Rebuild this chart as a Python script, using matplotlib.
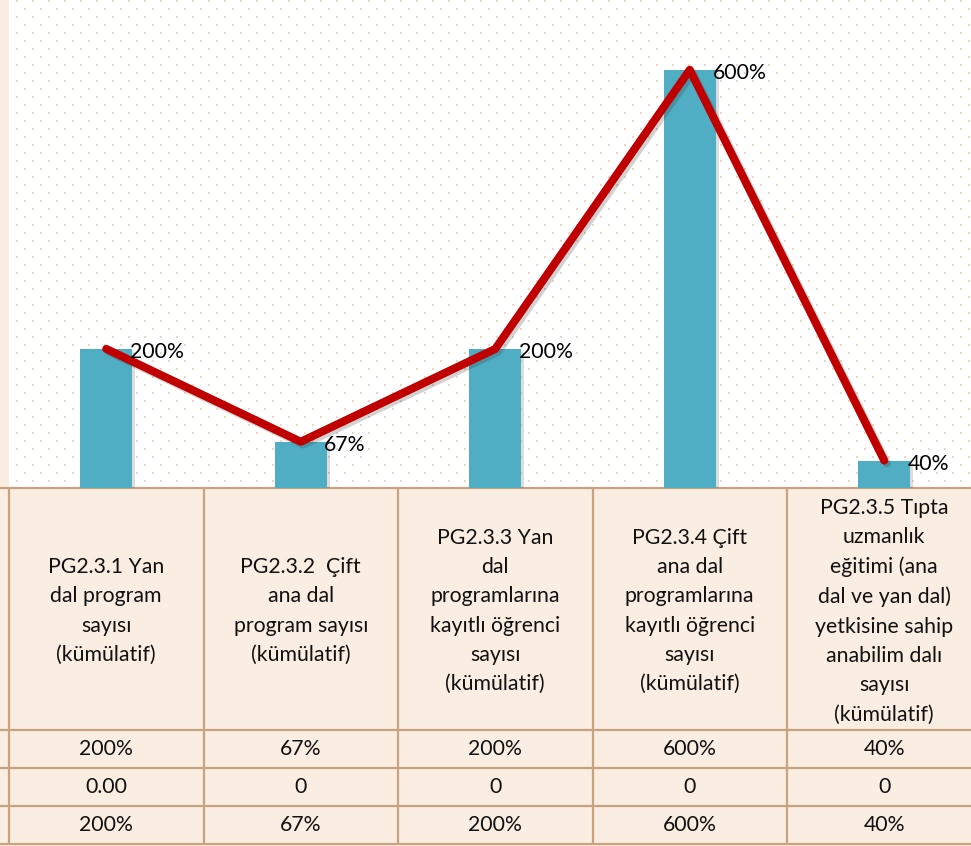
import numpy as np
import matplotlib
matplotlib.use("Agg")
import matplotlib.pyplot as plt
import matplotlib.patheffects as pe
from matplotlib.patches import Rectangle

# ---------------- data ----------------
categories = [
    "PG2.3.1 Yan\ndal program\nsayısı\n(kümülatif)",
    "PG2.3.2  Çift\nana dal\nprogram sayısı\n(kümülatif)",
    "PG2.3.3 Yan\ndal\nprogramlarına\nkayıtlı öğrenci\nsayısı\n(kümülatif)",
    "PG2.3.4 Çift\nana dal\nprogramlarına\nkayıtlı öğrenci\nsayısı\n(kümülatif)",
    "PG2.3.5 Tıpta\nuzmanlık\neğitimi (ana\ndal ve yan dal)\nyetkisine sahip\nanabilim dalı\nsayısı\n(kümülatif)",
]
bar_values = [200, 67, 200, 600, 40]      # percent
line_values = [200, 67, 200, 600, 40]     # percent
row1_labels = ["200%", "67%", "200%", "600%", "40%"]
row2_labels = ["0.00", "0", "0", "0", "0"]
row3_labels = ["200%", "67%", "200%", "600%", "40%"]

# ---------------- style ----------------
plt.rcParams['font.family'] = ['Lato', 'DejaVu Sans']
W, H = 971, 846
DPI = 100
BAR_C = "#4FADC4"
LINE_C = "#C00000"
GRID_C = "#C9A27E"
PEACH = "#FAEDE2"
DOT_C = "#EAD8C2"
FS = 15.3

fig = plt.figure(figsize=(W / DPI, H / DPI), dpi=DPI, facecolor=PEACH)

# layout in pixels
left_px = 9
col_w = 194.5
n = len(categories)
axis_w = col_w * n
chart_bottom = 488.5
table_top, table_bottom = 488, 844

# background (pixel coordinates)
ax_bg = fig.add_axes([0, 0, 1, 1], zorder=0)
ax_bg.set_xlim(0, W)
ax_bg.set_ylim(H, 0)
ax_bg.axis("off")
ax_bg.add_patch(Rectangle((left_px, 0), W - left_px, chart_bottom,
                          facecolor="white", edgecolor="none"))
dx, dy = np.meshgrid(np.arange(0, W + 16, 16), np.arange(0, chart_bottom - 4, 8))
dx = dx + (np.arange(dx.shape[0])[:, None] % 2) * 8 + 1
mask = dx > left_px + 2
ax_bg.scatter(dx[mask], dy[mask] + 1, s=2.6, marker="s", color=DOT_C, linewidths=0)

# chart axes
ax = fig.add_axes([left_px / W, (H - chart_bottom) / H, axis_w / W, chart_bottom / H], zorder=2)
ax.set_facecolor("none")
x = np.arange(n)
ax.set_xlim(-0.5, n - 0.5)
ax.set_ylim(0, 700)
ax.axis("off")

bar_w = 52 / col_w
ax.bar(x, bar_values, width=bar_w, color=BAR_C, zorder=2,
       path_effects=[pe.SimplePatchShadow(offset=(2, -2), alpha=0.18, shadow_rgbFace="#444444"),
                     pe.Normal()])
ax.plot(x, line_values, color=LINE_C, lw=5.8, solid_capstyle="round",
        solid_joinstyle="round", zorder=3,
        path_effects=[pe.SimpleLineShadow(offset=(2, -2), alpha=0.22, shadow_color="#333333"),
                      pe.Normal()])
for xi, v, lab in zip(x, line_values, row1_labels):
    ax.annotate(lab, (xi, v), xytext=(17, -1), textcoords="offset points",
                ha="left", va="center_baseline", fontsize=FS, color="black", zorder=4)

# table axes
tab_h = table_bottom - table_top
ax_t = fig.add_axes([left_px / W, (H - table_bottom) / H, axis_w / W, tab_h / H], zorder=1)
ax_t.set_facecolor("none")
ax_t.set_xlim(-0.5, n - 0.5)
ax_t.set_ylim(tab_h, 0)
ax_t.axis("off")

row_edges = [0, 242, 280, 318, tab_h]
for yb in row_edges:
    ax_t.plot([-1.5, n + 0.5], [yb, yb], color=GRID_C, lw=1.6, clip_on=False,
              solid_capstyle="butt")
for xb in np.arange(-0.5, n, 1.0):
    ax_t.plot([xb, xb], [0, tab_h], color=GRID_C, lw=1.6, clip_on=False,
              solid_capstyle="butt")

for xi, cat in zip(x, categories):
    ax_t.text(xi, (row_edges[0] + row_edges[1]) / 2 + 2, cat, ha="center", va="center",
              fontsize=FS, linespacing=1.58, color="#111111")
for r, labels in enumerate([row1_labels, row2_labels, row3_labels]):
    yc = (row_edges[r + 1] + row_edges[r + 2]) / 2
    for xi, lab in zip(x, labels):
        ax_t.text(xi, yc, lab, ha="center", va="center", fontsize=FS, color="#111111")

fig.savefig("out.png", dpi=DPI, facecolor=PEACH)
